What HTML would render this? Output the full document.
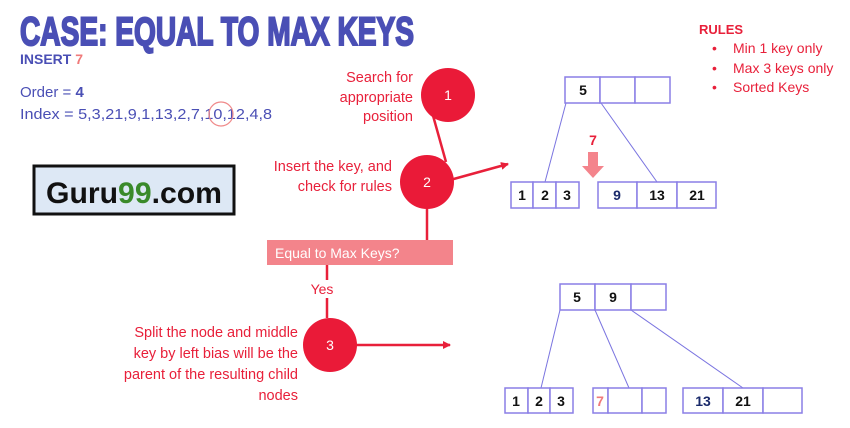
<!DOCTYPE html>
<html><head><meta charset="utf-8"><style>
html,body{margin:0;padding:0;background:#fff;}
svg{display:block;font-family:"Liberation Sans",sans-serif;}
</style></head><body>
<svg width="850" height="428" viewBox="0 0 850 428" xmlns="http://www.w3.org/2000/svg">
<defs>
<marker id="ar" markerWidth="8" markerHeight="8" refX="7" refY="4" orient="auto" markerUnits="userSpaceOnUse"><path d="M0,0 L8,4 L0,8 z" fill="#e8203a"/></marker>
</defs>
<text x="20" y="45" font-size="40" font-weight="bold" fill="#4a4fb5" stroke="#4a4fb5" stroke-width="2" textLength="394" lengthAdjust="spacingAndGlyphs">CASE: EQUAL TO MAX KEYS</text>
<text x="20" y="64" font-size="14" font-weight="bold" fill="#4a4fb5">INSERT <tspan fill="#f07a7a">7</tspan></text>
<text x="20" y="97" font-size="15" fill="#4a4fb5">Order = <tspan font-weight="bold">4</tspan></text>
<text x="20" y="119" font-size="15" fill="#4a4fb5" textLength="252" lengthAdjust="spacingAndGlyphs">Index = 5,3,21,9,1,13,2,7,10,12,4,8</text>
<circle cx="221" cy="114" r="12" fill="none" stroke="#f08a8a" stroke-width="1.2"/>
<rect x="34" y="166" width="200" height="48" fill="#dde8f5" stroke="#111" stroke-width="3"/>
<text x="46" y="203" font-size="30" font-weight="bold" fill="#111" textLength="176" lengthAdjust="spacingAndGlyphs">Guru<tspan fill="#3a8a2a">99</tspan>.com</text>
<text x="699" y="34" font-size="13" font-weight="bold" fill="#e8203a">RULES</text>
<g font-size="14" fill="#e8203a">
<text x="712" y="53">•</text><text x="733" y="53">Min 1 key only</text>
<text x="712" y="73">•</text><text x="733" y="73">Max 3 keys only</text>
<text x="712" y="92">•</text><text x="733" y="92">Sorted Keys</text>
</g>
<g font-size="14.5" fill="#e8203a" text-anchor="end">
<text x="413" y="82">Search for</text>
<text x="413" y="102">appropriate</text>
<text x="413" y="121">position</text>
<text x="392" y="171">Insert the key, and</text>
<text x="392" y="191">check for rules</text>
<text x="298" y="337">Split the node and middle</text>
<text x="298" y="358">key by left bias will be the</text>
<text x="298" y="379">parent of the resulting child</text>
<text x="298" y="400">nodes</text>
</g>
<g stroke="#e8203a" stroke-width="2.5" fill="none">
<line x1="432" y1="112" x2="446" y2="162"/>
<line x1="450" y1="180" x2="508" y2="164" marker-end="url(#ar)"/>
<line x1="427" y1="208" x2="427" y2="240"/>
<line x1="327" y1="265" x2="327" y2="280"/>
<line x1="327" y1="298" x2="327" y2="318"/>
<line x1="356" y1="345" x2="450" y2="345" marker-end="url(#ar)"/>
</g>
<circle cx="448" cy="95" r="27" fill="#ea1a38"/>
<text x="448" y="100" font-size="14" fill="#fff" text-anchor="middle">1</text>
<circle cx="427" cy="182" r="27" fill="#ea1a38"/>
<text x="427" y="187" font-size="14" fill="#fff" text-anchor="middle">2</text>
<circle cx="330" cy="345" r="27" fill="#ea1a38"/>
<text x="330" y="350" font-size="14" fill="#fff" text-anchor="middle">3</text>
<rect x="267" y="240" width="186" height="25" fill="#f3848b"/>
<text x="275" y="258" font-size="14" fill="#fff">Equal to Max Keys?</text>
<text x="322" y="294" font-size="14" fill="#e8203a" text-anchor="middle">Yes</text>
<g stroke="#7a74e0" stroke-width="1" fill="none">
<line x1="566" y1="103" x2="545" y2="182"/>
<line x1="601" y1="103" x2="657" y2="182"/>
<line x1="560" y1="310" x2="541" y2="388"/>
<line x1="595" y1="310" x2="629" y2="388"/>
<line x1="631" y1="310" x2="743" y2="388"/>
</g>
<g stroke="#8a7fe6" stroke-width="1.5" fill="#fff">
<rect x="565" y="77" width="35" height="26"/><rect x="600" y="77" width="35" height="26"/><rect x="635" y="77" width="35" height="26"/>
<rect x="511" y="182" width="22" height="26"/><rect x="533" y="182" width="23" height="26"/><rect x="556" y="182" width="23" height="26"/>
<rect x="598" y="182" width="39" height="26"/><rect x="637" y="182" width="40" height="26"/><rect x="677" y="182" width="39" height="26"/>
<rect x="560" y="284" width="35" height="26"/><rect x="595" y="284" width="36" height="26"/><rect x="631" y="284" width="35" height="26"/>
<rect x="505" y="388" width="23" height="25"/><rect x="528" y="388" width="22" height="25"/><rect x="550" y="388" width="23" height="25"/>
<rect x="593" y="388" width="15" height="25"/><rect x="608" y="388" width="34" height="25"/><rect x="642" y="388" width="24" height="25"/>
<rect x="683" y="388" width="40" height="25"/><rect x="723" y="388" width="40" height="25"/><rect x="763" y="388" width="39" height="25"/>
</g>
<g font-size="14" font-weight="bold" fill="#111" text-anchor="middle">
<text x="583" y="95">5</text>
<text x="522" y="200">1</text><text x="545" y="200">2</text><text x="567" y="200">3</text>
<text x="617" y="200" fill="#1a2a6a">9</text><text x="657" y="200">13</text><text x="697" y="200">21</text>
<text x="577" y="302">5</text><text x="613" y="302">9</text>
<text x="516" y="406">1</text><text x="539" y="406">2</text><text x="561" y="406">3</text>
<text x="600" y="406" fill="#f07a7a">7</text>
<text x="703" y="406" fill="#1a2a6a">13</text><text x="743" y="406">21</text>
</g>
<text x="593" y="145" font-size="14" font-weight="bold" fill="#e8203a" text-anchor="middle">7</text>
<path d="M588,152 H598 V166 H604 L593,178 L582,166 H588 Z" fill="#f4848c"/>
</svg>
</body></html>
